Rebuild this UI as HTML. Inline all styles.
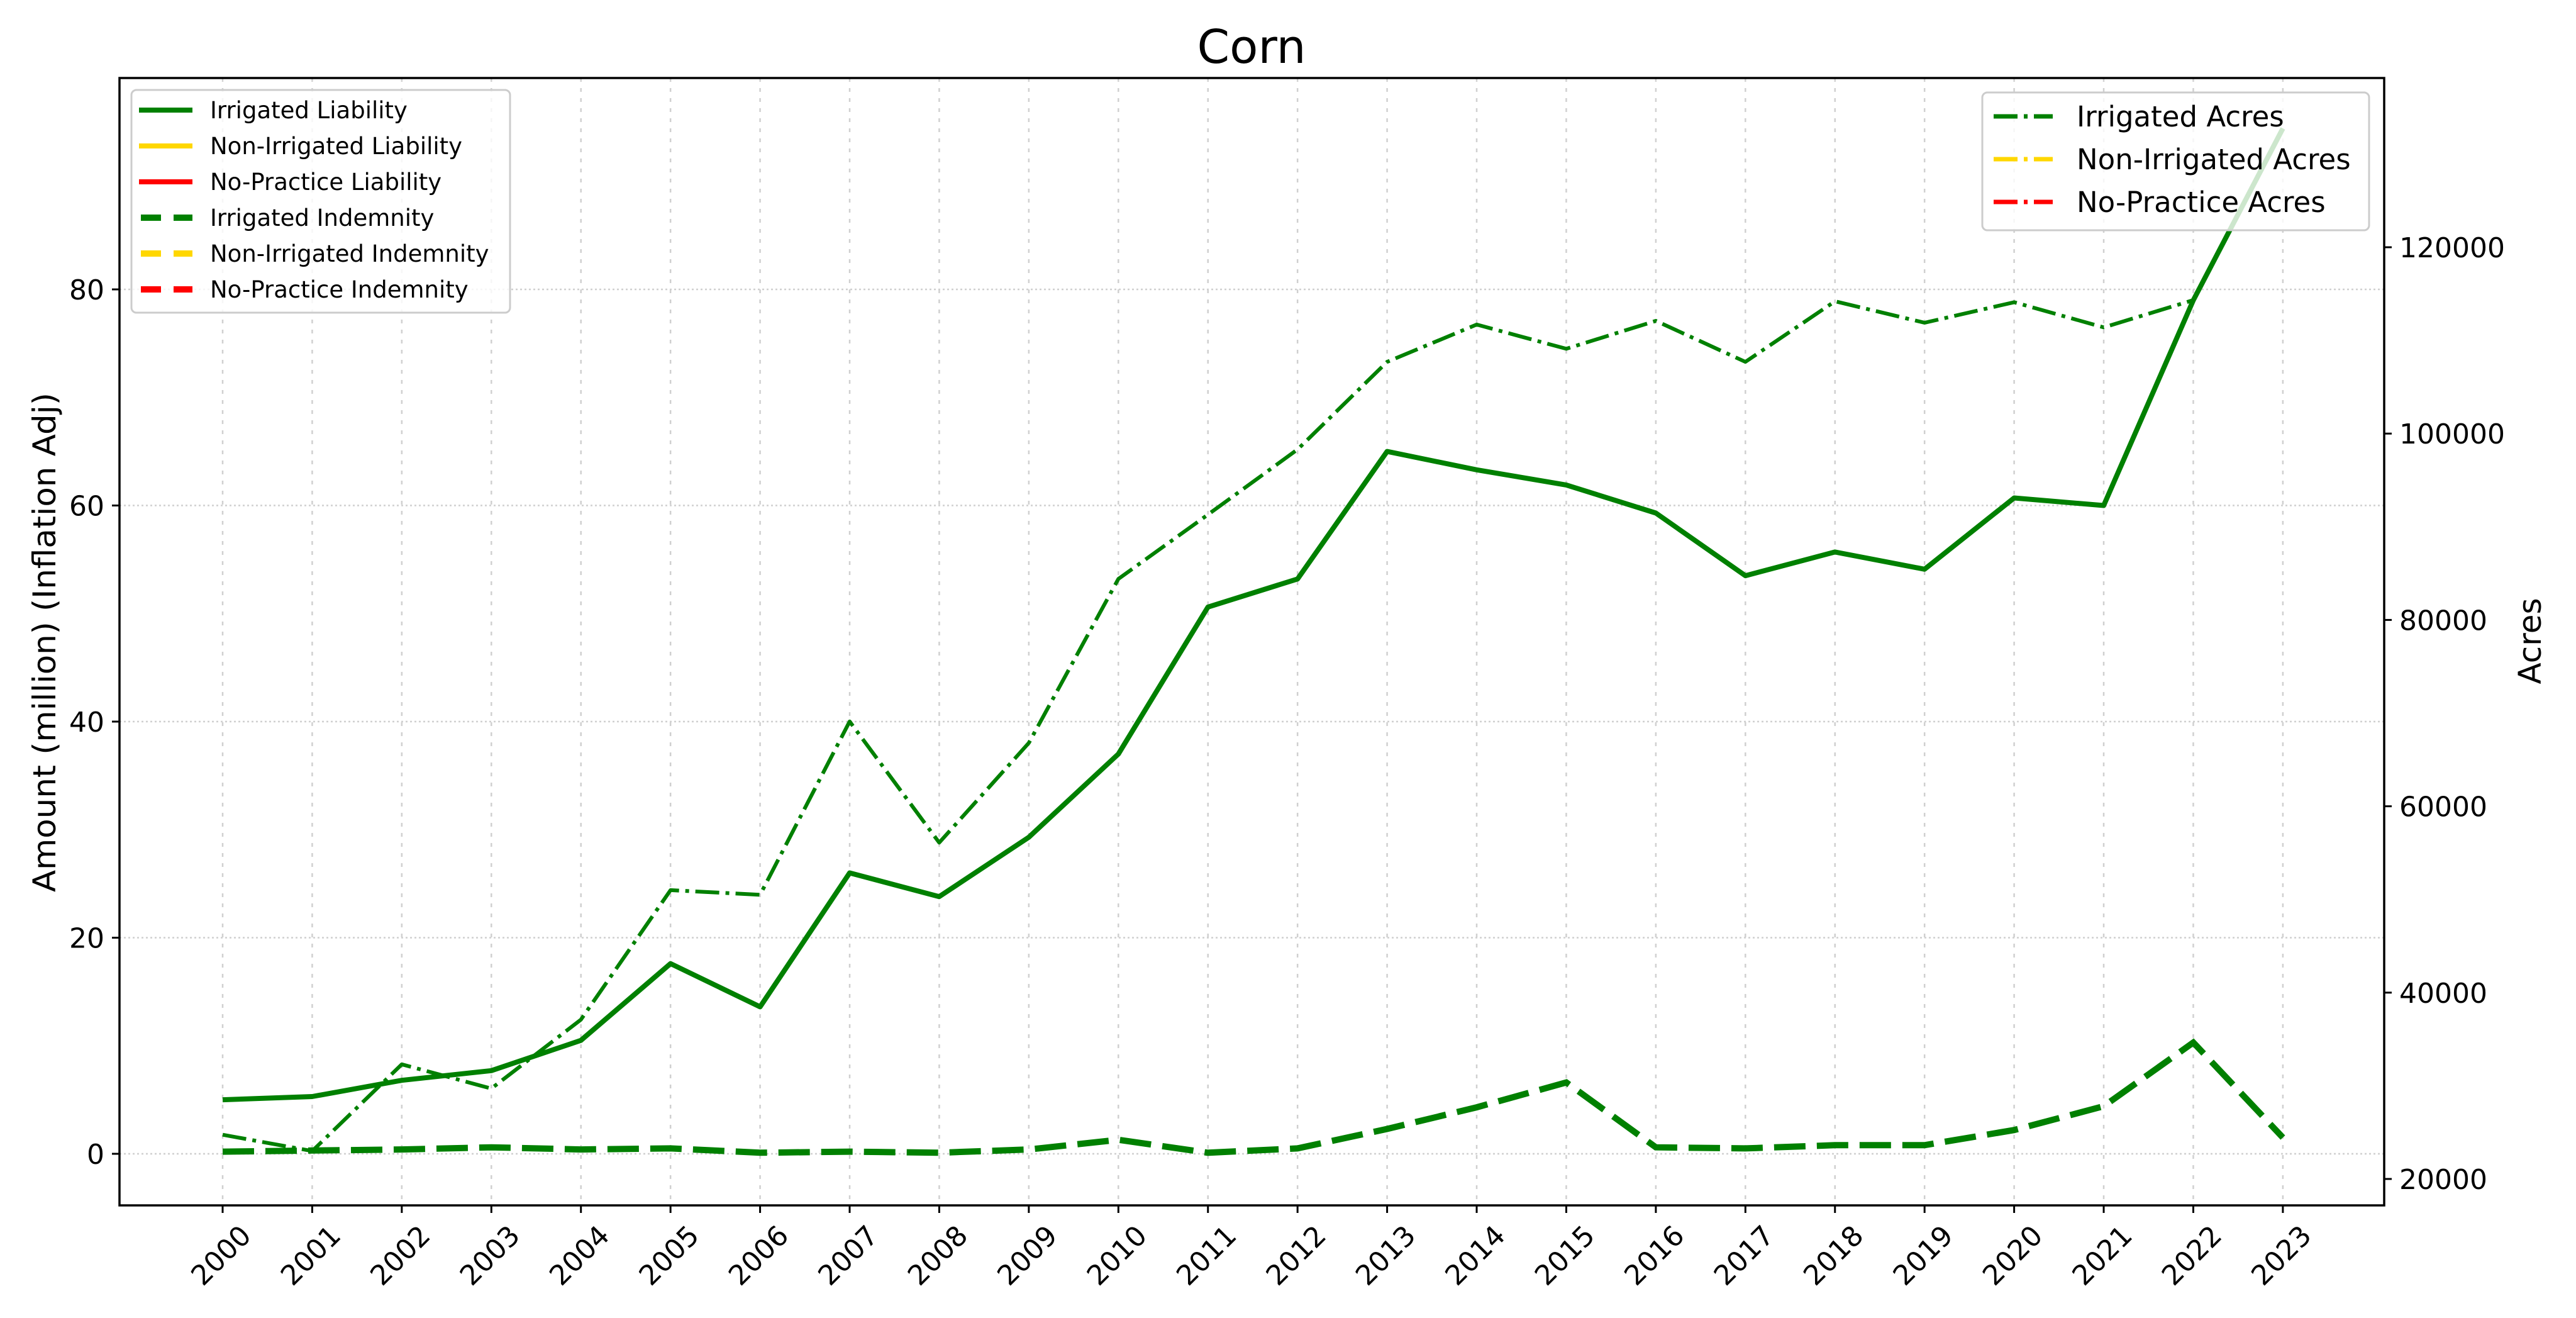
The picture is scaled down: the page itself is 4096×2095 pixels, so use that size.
<!DOCTYPE html>
<html><head><meta charset="utf-8"><style>
html,body{margin:0;padding:0;background:#fff;}
svg{display:block;font-family:"DejaVu Sans","Liberation Sans",sans-serif;}
</style></head><body>
<svg id="chart" width="4096" height="2095" viewBox="0 0 4096 2095" xmlns="http://www.w3.org/2000/svg">
<rect width="4096" height="2095" fill="#fff"/>
<g id="grid"></g>
<g id="series"></g>
<rect x="190" y="124" width="3601" height="1792" fill="none" stroke="#000" stroke-width="3.5"/>
<g id="axes"></g>
<text x="1990" y="100" font-size="74" text-anchor="middle">Corn</text>
<text x="0" y="0" font-size="50" text-anchor="middle" textLength="794" lengthAdjust="spacingAndGlyphs" transform="translate(88,1021) rotate(-90)">Amount (million) (Inflation Adj)</text>
<text x="0" y="0" font-size="50" text-anchor="middle" transform="translate(4040,1019) rotate(-90)">Acres</text>

<g>
<rect x="209" y="143" width="602" height="354" rx="8" fill="#fff" fill-opacity="0.8" stroke="#ccc" stroke-width="3"/>
<g id="legL"></g>
</g>
<g>
<rect x="3152" y="147" width="615" height="219" rx="8" fill="#fff" fill-opacity="0.8" stroke="#ccc" stroke-width="3"/>
<g id="legR"></g>
</g>
</svg>
<script>
const years = [2000,2001,2002,2003,2004,2005,2006,2007,2008,2009,2010,2011,2012,2013,2014,2015,2016,2017,2018,2019,2020,2021,2022,2023];
const irrigatedLiability = [5.0,5.3,6.8,7.7,10.5,17.6,13.6,26.0,23.8,29.3,37.0,50.6,53.2,65.0,63.3,61.9,59.3,53.5,55.7,54.1,60.7,60.0,79.0,94.9];
const irrigatedIndemnity = [0.2,0.3,0.4,0.6,0.4,0.5,0.1,0.2,0.1,0.4,1.3,0.1,0.5,2.3,4.3,6.6,0.6,0.5,0.8,0.8,2.2,4.4,10.3,1.5];
const irrigatedAcres = [24750,23000,32300,29700,37100,51000,50500,69100,56100,66800,84400,91300,98300,107700,111700,109100,112100,107700,114200,111900,114100,111400,114330,132760];
const leftTicks = [0,20,40,60,80];
const rightTicks = [20000,40000,60000,80000,100000,120000];

const NS='http://www.w3.org/2000/svg';
function mk(tag,attrs,parent){const e=document.createElementNS(NS,tag);for(const k in attrs)e.setAttribute(k,attrs[k]);parent.appendChild(e);return e;}
const X0=190,X1=3791,Y0=124,Y1=1916;
function xs(yr){return 354+(yr-2000)*142.43;}
function yl(v){return 1834-v*17.175;}
function yr(v){return 1874-(v-20000)*0.01481;}
const grid=document.getElementById('grid'),axes=document.getElementById('axes'),series=document.getElementById('series');

years.forEach(y=>{
  const g=mk('line',{x1:xs(y),x2:xs(y),y1:Y0,y2:Y1,stroke:'#d0d0d0','stroke-width':2.5,'stroke-dasharray':'6 10'},grid);
  
  
  const t=mk('line',{x1:xs(y),x2:xs(y),y1:Y1,y2:Y1+12,stroke:'#000','stroke-width':3},axes);
  
  
  const lb=mk('text',{x:0,y:0,'font-size':44,'text-anchor':'middle','dominant-baseline':'central',transform:`translate(${xs(y)-2},1996) rotate(-45)`},axes);
  lb.textContent=y;
  
  
});
leftTicks.forEach(v=>{
  const g=mk('line',{x1:X0,x2:X1,y1:yl(v),y2:yl(v),stroke:'#d0d0d0','stroke-width':2.5,'stroke-dasharray':'3 4'},grid);
  
  
  const t=mk('line',{x1:X0-12,x2:X0,y1:yl(v),y2:yl(v),stroke:'#000','stroke-width':3},axes);
  
  
  const lb=mk('text',{x:X0-24,y:yl(v)+16,'font-size':44,'text-anchor':'end'},axes);
  lb.textContent=v;
  
  
});
rightTicks.forEach(v=>{
  const t=mk('line',{x1:X1,x2:X1+12,y1:yr(v),y2:yr(v),stroke:'#000','stroke-width':3},axes);
  
  
  const lb=mk('text',{x:X1+24,y:yr(v)+16,'font-size':44,'text-anchor':'start'},axes);
  lb.textContent=v;
  
  
});
function pts(vals,f){return vals.map((v,i)=>xs(years[i]).toFixed(1)+','+f(v).toFixed(1)).join(' ');}
const s1=mk('polyline',{points:pts(irrigatedAcres,yr),fill:'none',stroke:'#008000','stroke-width':6,'stroke-dasharray':'38 10 6 10','stroke-linejoin':'round'},series);


const s2=mk('polyline',{points:pts(irrigatedLiability,yl),fill:'none',stroke:'#008000','stroke-width':8,'stroke-linejoin':'round'},series);


const s3=mk('polyline',{points:pts(irrigatedIndemnity,yl),fill:'none',stroke:'#008000','stroke-width':10,'stroke-dasharray':'50 18'},series);



const legL=document.getElementById('legL');
const lItems=[['Irrigated Liability','#008000',''],['Non-Irrigated Liability','#ffd700',''],['No-Practice Liability','#ff0000',''],['Irrigated Indemnity','#008000','32 20'],['Non-Irrigated Indemnity','#ffd700','32 20'],['No-Practice Indemnity','#ff0000','32 20']];
lItems.forEach((it,i)=>{
  const y=175+i*57;
  const l=mk('line',{x1:it[2]?224:221,x2:306,y1:y,y2:y,stroke:it[1],'stroke-width':it[2]?10:8,'stroke-dasharray':it[2]||'none'},legL);
  
  
  const t=mk('text',{x:334,y:y+13,'font-size':37},legL);
  t.textContent=it[0];
  
  
});
const legR=document.getElementById('legR');
const rItems=[['Irrigated Acres','#008000'],['Non-Irrigated Acres','#ffd700'],['No-Practice Acres','#ff0000']];
rItems.forEach((it,i)=>{
  const y=185+i*68;
  const l=mk('line',{x1:3170,x2:3264,y1:y,y2:y,stroke:it[1],'stroke-width':7,'stroke-dasharray':'38 10 6 10'},legR);
  
  
  const t=mk('text',{x:3302,y:y+16,'font-size':45},legR);
  t.textContent=it[0];
  
  
});
</script>
</body></html>
